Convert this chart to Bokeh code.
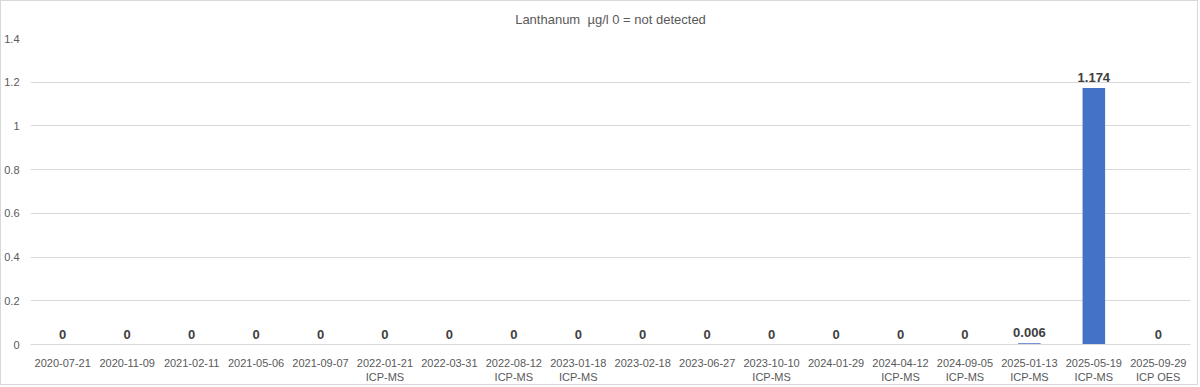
from bokeh.plotting import figure
from bokeh.models import ColumnDataSource, FactorRange, Range1d, FixedTicker, NumeralTickFormatter, LabelSet
from bokeh.core.properties import value
from bokeh.embed import file_html
from bokeh.resources import INLINE

dates = ["2020-07-21", "2020-11-09", "2021-02-11", "2021-05-06", "2021-09-07",
         "2022-01-21", "2022-03-31", "2022-08-12", "2023-01-18", "2023-02-18",
         "2023-06-27", "2023-10-10", "2024-01-29", "2024-04-12", "2024-09-05",
         "2025-01-13", "2025-05-19", "2025-09-29"]
methods = ["", "", "", "", "", "ICP-MS", "", "ICP-MS", "ICP-MS", "", "", "ICP-MS",
           "", "ICP-MS", "ICP-MS", "ICP-MS", "ICP-MS", "ICP OES"]
values = [0, 0, 0, 0, 0, 0, 0, 0, 0, 0, 0, 0, 0, 0, 0, 0.006, 1.174, 0]
y_ticks = [0, 0.2, 0.4, 0.6, 0.8, 1.0, 1.2, 1.4]
title = "Lanthanum \u00a0\u00b5g/l 0 = not detected"

cats = [d + ("\n" + m if m else "") for d, m in zip(dates, methods)]
labels = [f"{v:g}" for v in values]

src = ColumnDataSource(dict(cat=cats, val=values, lab=labels))

p = figure(width=1198, height=385, x_range=FactorRange(*cats), y_range=Range1d(0, 1.4),
           output_backend="svg", toolbar_location=None, title=title,
           min_border_left=5, min_border_right=9, min_border_top=5, min_border_bottom=42)
p.styles = {"border": "1px solid #D9D9D9"}
p.title.align = "center"
p.title.vertical_align = "top"
p.title.text_font = "Liberation Sans"
p.title.text_font_size = "13px"
p.title.text_font_style = "normal"
p.title.text_color = "#595959"
p.title.standoff = 20

p.vbar(x="cat", top="val", width=0.35, source=src, color="#4472C4", line_color=None)

ls = LabelSet(x="cat", y="val", text="lab", source=src, text_align="center",
              text_baseline="bottom", y_offset=6, text_font=value("Liberation Sans"),
              text_font_size="13px", text_font_style="bold", text_color="#404040")
p.add_layout(ls)

p.outline_line_color = None
p.xgrid.grid_line_color = None
p.ygrid.grid_line_color = "#D9D9D9"
p.ygrid.ticker = FixedTicker(ticks=y_ticks)
p.yaxis.ticker = FixedTicker(ticks=y_ticks)
p.yaxis.formatter = NumeralTickFormatter(format="0.[0]")
p.yaxis.axis_line_color = None
p.yaxis.major_tick_line_color = None
p.yaxis.minor_tick_line_color = None
p.yaxis.major_tick_out = 0
p.yaxis.major_tick_in = 0
p.yaxis.minor_tick_out = 0
p.yaxis.major_label_text_font = "Liberation Sans"
p.yaxis.major_label_text_font_size = "11px"
p.yaxis.major_label_text_color = "#595959"
p.yaxis.major_label_standoff = 11

p.xaxis.axis_line_color = "#D9D9D9"
p.xaxis.major_tick_line_color = None
p.xaxis.minor_tick_line_color = None
p.xaxis.major_label_text_font = "Liberation Sans"
p.xaxis.major_label_text_font_size = "11px"
p.xaxis.major_label_text_color = "#595959"
p.xaxis.major_label_standoff = 6

open("out.html", "w").write(file_html(p, INLINE))
